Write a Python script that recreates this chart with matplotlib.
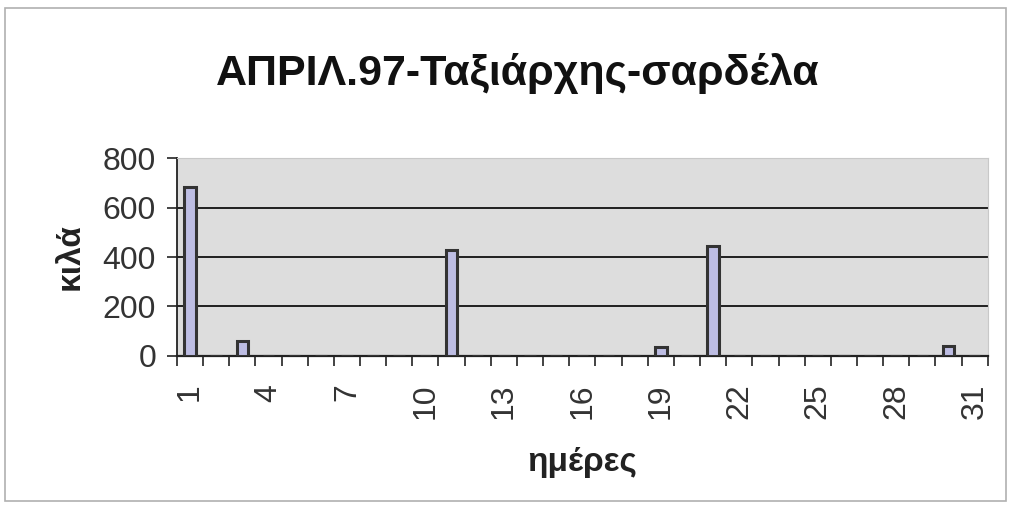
import matplotlib
matplotlib.use("Agg")

import matplotlib.pyplot as plt
from matplotlib.patches import Rectangle
import numpy as np

# δεδομένα: κιλά ανά ημέρα, Απρίλιος 97
days = list(range(1, 32))
kila = [685, 0, 60, 0, 0, 0, 0, 0, 0, 0,
        430, 0, 0, 0, 0, 0, 0, 0, 35, 0,
        445, 0, 0, 0, 0, 0, 0, 0, 0, 40,
        0]
y_ticks = [0, 200, 400, 600, 800]
title = "ΑΠΡΙΛ.97-Ταξιάρχης-σαρδέλα"

plt.rcParams["font.family"] = ["Liberation Sans", "DejaVu Sans"]

fig = plt.figure(figsize=(10.11, 5.07), dpi=100)
fig.patch.set_facecolor("white")
fig.patches.append(Rectangle((0.005, 0.012), 0.99, 0.972, transform=fig.transFigure,
                             fill=False, edgecolor="#b0b0b0", linewidth=1.2))

ax = fig.add_axes([0.175, 0.298, 0.802, 0.39])
ax.set_facecolor("#dddddd")

x = np.arange(len(days))
ax.bar(x, kila, width=0.44, color="#bdbde3", edgecolor="#333333",
       linewidth=2.2, zorder=3)

ax.set_xlim(-0.5, len(days) - 0.5)
ax.set_ylim(0, 800)
ax.set_yticks(y_ticks)
ax.set_yticklabels([str(v) for v in y_ticks], fontsize=23, color="#333333")
for v in y_ticks[1:-1]:
    ax.axhline(v, color="#111111", linewidth=1.3, zorder=1)

# σημάδια στα όρια των κατηγοριών, ετικέτες κάθε 3 ημέρες
ax.set_xticks(np.arange(-0.5, len(days), 1.0))
ax.set_xticklabels([])
ax.tick_params(axis="x", which="major", length=7, width=1.2, color="#222222")
ax.set_xticks(x[::3], minor=True)
ax.set_xticklabels([str(d) for d in days[::3]], minor=True, rotation=90,
                   fontsize=23, color="#333333")
ax.tick_params(axis="x", which="minor", length=0, pad=20)
ax.tick_params(axis="y", length=7, width=1.2, color="#222222", pad=8)

ax.spines["top"].set_color("#c8c8c8")
ax.spines["right"].set_color("#c8c8c8")
ax.spines["left"].set_color("#222222")
ax.spines["left"].set_linewidth(1.3)
ax.spines["bottom"].set_color("#222222")
ax.spines["bottom"].set_linewidth(1.6)

ax.set_ylabel("κιλά", fontsize=24, fontweight="bold", labelpad=12, color="#222222")
ax.set_xlabel("ημέρες", fontsize=24, fontweight="bold", labelpad=20, color="#222222")
fig.text(0.512, 0.855, title, fontsize=31, fontweight="bold",
         ha="center", va="center", color="#111111")

plt.savefig("out.png", dpi=100)
plt.close()
